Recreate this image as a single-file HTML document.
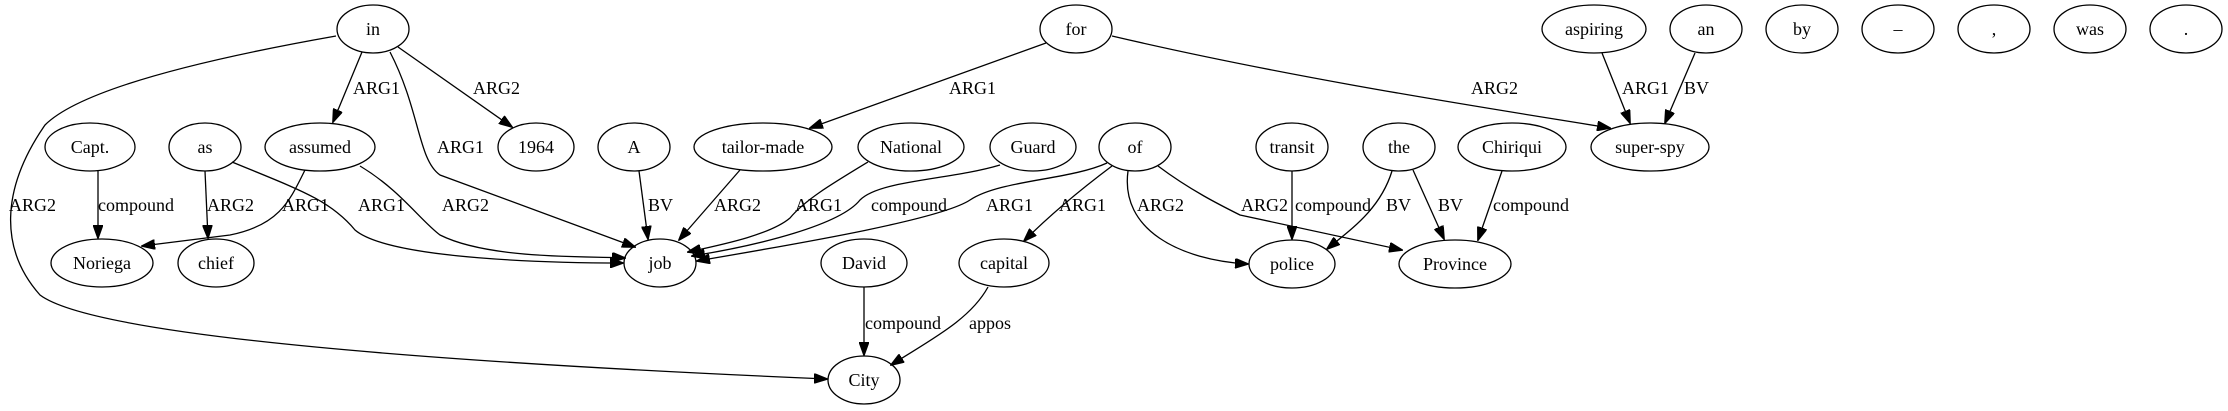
<!DOCTYPE html>
<html><head><meta charset="utf-8"><style>
html,body{margin:0;padding:0;background:#fff;}
svg{display:block;}
text{font-family:"Liberation Serif",serif;font-size:18px;fill:#000;}
.n text{text-anchor:middle;dominant-baseline:central;}
ellipse{fill:none;stroke:#000;stroke-width:1.3;}
path{fill:none;stroke:#000;stroke-width:1.3;}
.l{dominant-baseline:central;}
</style></head><body>
<svg width="2228" height="411" viewBox="0 0 2228 411" xmlns="http://www.w3.org/2000/svg">
<defs><marker id="a" markerWidth="14" markerHeight="10" refX="13" refY="5" orient="auto" markerUnits="userSpaceOnUse"><path d="M0,0 L14,5 L0,10 z" style="fill:#000;stroke:#000;stroke-width:1"/></marker></defs>
<g class="n">
<ellipse cx="373" cy="29" rx="36" ry="24"/><text x="373" y="29">in</text>
<ellipse cx="1076" cy="29" rx="36" ry="24"/><text x="1076" y="29">for</text>
<ellipse cx="1594" cy="29" rx="52" ry="24"/><text x="1594" y="29">aspiring</text>
<ellipse cx="1706" cy="29" rx="36" ry="24"/><text x="1706" y="29">an</text>
<ellipse cx="1802" cy="29" rx="36" ry="24"/><text x="1802" y="29">by</text>
<ellipse cx="1898" cy="29" rx="36" ry="24"/><text x="1898" y="29">–</text>
<ellipse cx="1994" cy="29" rx="36" ry="24"/><text x="1994" y="29">,</text>
<ellipse cx="2090" cy="29" rx="36" ry="24"/><text x="2090" y="29">was</text>
<ellipse cx="2186" cy="29" rx="36" ry="24"/><text x="2186" y="29">.</text>

<ellipse cx="90" cy="147" rx="45" ry="24"/><text x="90" y="147">Capt.</text>
<ellipse cx="205" cy="147" rx="36" ry="24"/><text x="205" y="147">as</text>
<ellipse cx="320" cy="147" rx="55" ry="24"/><text x="320" y="147">assumed</text>
<ellipse cx="536" cy="147" rx="38" ry="24"/><text x="536" y="147">1964</text>
<ellipse cx="634" cy="147" rx="36" ry="24"/><text x="634" y="147">A</text>
<ellipse cx="763" cy="147" rx="69" ry="24"/><text x="763" y="147">tailor-made</text>
<ellipse cx="911" cy="147" rx="53" ry="24"/><text x="911" y="147">National</text>
<ellipse cx="1033" cy="147" rx="43" ry="24"/><text x="1033" y="147">Guard</text>
<ellipse cx="1135" cy="147" rx="36" ry="24"/><text x="1135" y="147">of</text>
<ellipse cx="1292" cy="147" rx="36" ry="24"/><text x="1292" y="147">transit</text>
<ellipse cx="1399" cy="147" rx="36" ry="24"/><text x="1399" y="147">the</text>
<ellipse cx="1512" cy="147" rx="54" ry="24"/><text x="1512" y="147">Chiriqui</text>
<ellipse cx="1650" cy="147" rx="59" ry="24"/><text x="1650" y="147">super-spy</text>

<ellipse cx="102" cy="263" rx="51" ry="24"/><text x="102" y="263">Noriega</text>
<ellipse cx="216" cy="263" rx="38" ry="24"/><text x="216" y="263">chief</text>
<ellipse cx="660" cy="263" rx="36" ry="24"/><text x="660" y="263">job</text>
<ellipse cx="864" cy="263" rx="43" ry="24"/><text x="864" y="263">David</text>
<ellipse cx="1004" cy="263" rx="45" ry="24"/><text x="1004" y="263">capital</text>
<ellipse cx="1292" cy="264" rx="43" ry="24"/><text x="1292" y="264">police</text>
<ellipse cx="1455" cy="264" rx="56" ry="24"/><text x="1455" y="264">Province</text>
<ellipse cx="864" cy="380" rx="36" ry="24"/><text x="864" y="380">City</text>
</g>
<g marker-end="url(#a)">
<path d="M362,52 L333,122"/>
<path d="M398,47 L512,127"/>
<path d="M390,52 C420,110 418,160 440,175 L635,247"/>
<path d="M336,36 C200,60 80,90 45,125 C0,190 0,250 40,295 C100,340 500,365 827,379"/>
<path d="M98,171 L98,238"/>
<path d="M205,171 L208,238"/>
<path d="M232,162 C300,190 330,200 355,230 C390,260 560,263 623,263"/>
<path d="M305,170 C290,200 280,225 230,235 L142,246"/>
<path d="M360,166 C400,190 420,220 440,235 C490,260 590,256 625,258"/>
<path d="M639,171 L648,239"/>
<path d="M740,170 L679,240"/>
<path d="M868,162 C830,185 805,200 790,218 C770,235 720,245 688,252"/>
<path d="M1000,165 C950,180 880,180 860,200 C840,225 760,245 692,256"/>
<path d="M1107,163 C1070,180 1000,180 970,200 C940,220 790,245 697,261"/>
<path d="M1112,166 C1080,190 1050,215 1024,241"/>
<path d="M1128,171 C1120,230 1180,260 1248,264"/>
<path d="M1158,166 C1190,190 1220,205 1240,215 L1402,250"/>
<path d="M1292,171 L1292,239"/>
<path d="M1392,171 C1380,210 1350,230 1327,249"/>
<path d="M1413,170 L1444,239"/>
<path d="M1502,171 L1478,240"/>
<path d="M1046,43 L810,128"/>
<path d="M1112,36 C1300,80 1500,110 1610,128"/>
<path d="M1602,53 L1630,123"/>
<path d="M1695,53 L1665,123"/>
<path d="M864,287 L864,355"/>
<path d="M988,287 C970,320 930,340 891,365"/>
</g>
<g class="l">
<text class="l" x="353" y="88">ARG1</text>
<text class="l" x="473" y="88">ARG2</text>
<text class="l" x="437" y="147">ARG1</text>
<text class="l" x="9" y="205">ARG2</text>
<text class="l" x="98" y="205">compound</text>
<text class="l" x="207" y="205">ARG2</text>
<text class="l" x="282" y="205">ARG1</text>
<text class="l" x="358" y="205">ARG1</text>
<text class="l" x="442" y="205">ARG2</text>
<text class="l" x="648" y="205">BV</text>
<text class="l" x="714" y="205">ARG2</text>
<text class="l" x="795" y="205">ARG1</text>
<text class="l" x="871" y="205">compound</text>
<text class="l" x="986" y="205">ARG1</text>
<text class="l" x="1059" y="205">ARG1</text>
<text class="l" x="1137" y="205">ARG2</text>
<text class="l" x="1241" y="205">ARG2</text>
<text class="l" x="1295" y="205">compound</text>
<text class="l" x="1386" y="205">BV</text>
<text class="l" x="1438" y="205">BV</text>
<text class="l" x="1493" y="205">compound</text>
<text class="l" x="949" y="88">ARG1</text>
<text class="l" x="1471" y="88">ARG2</text>
<text class="l" x="1622" y="88">ARG1</text>
<text class="l" x="1684" y="88">BV</text>
<text class="l" x="865" y="323">compound</text>
<text class="l" x="969" y="323">appos</text>
</g>
</svg>
</body></html>
